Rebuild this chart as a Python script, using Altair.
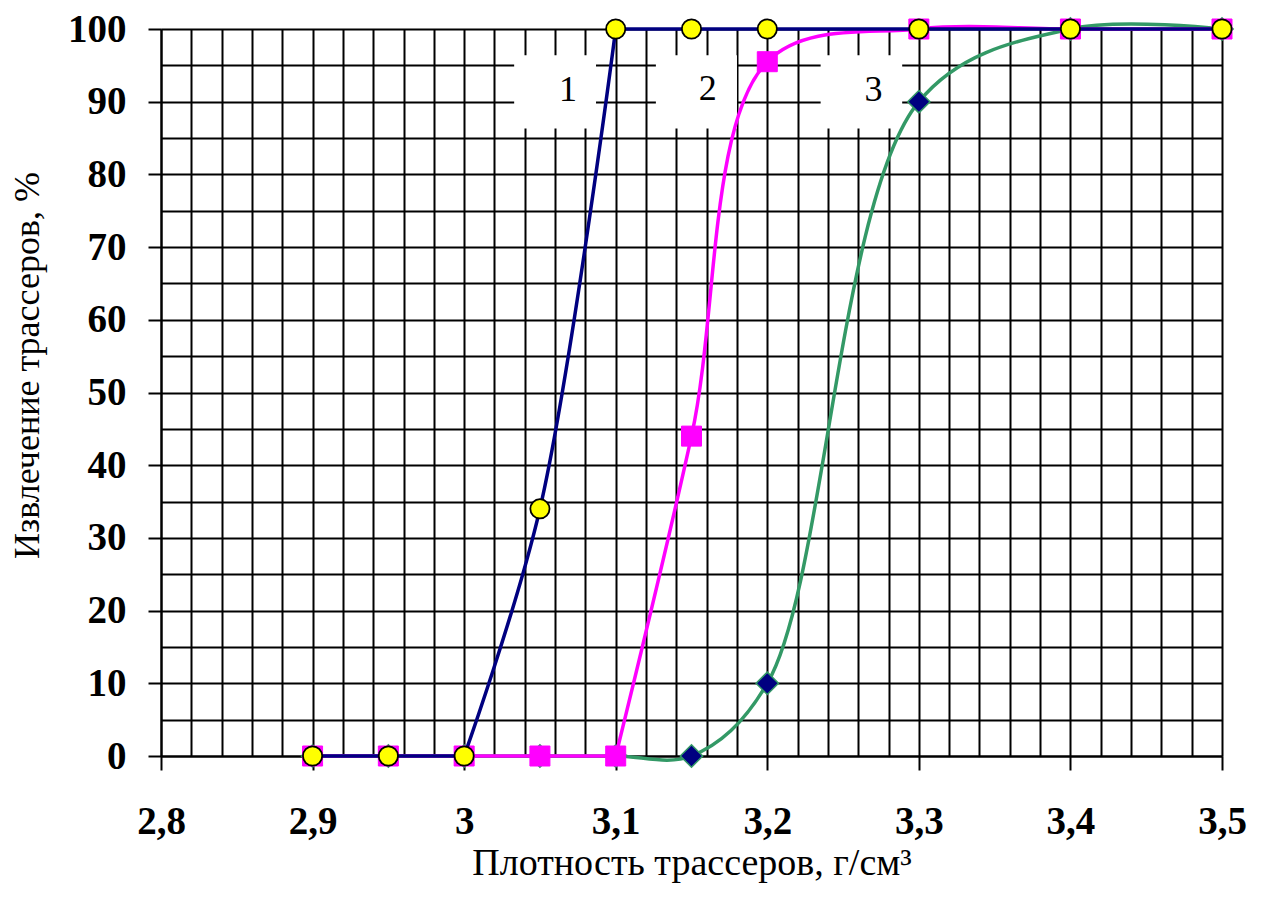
import altair as alt
import pandas as pd

# ---- data ----
density = [2.9, 2.95, 3.0, 3.05, 3.1, 3.15, 3.2, 3.3, 3.4, 3.5]
rec1 = [0, 0, 0, 34, 100, 100, 100, 100, 100, 100]
rec2 = [0, 0, 0, 0, 0, 44, 95.5, 100, 100, 100]
rec3 = [0, 0, 0, 0, 0, 0, 10, 90, 100, 100]
series_names = ["1", "2", "3"]

# index runs of each curve drawn smoothed / straight
curve_runs = {"1": [(2, 4)], "2": [(4, 9)], "3": [(0, 9)]}
flat_runs = {"1": [(0, 2), (4, 9)], "2": [(0, 4)], "3": []}

# curve number labels (text boxes)
label_text = ["1", "2", "3"]
label_x = [3.0686, 3.1608, 3.270]
label_y = [91.6, 91.8, 91.6]
box_x0 = [3.033, 3.1265, 3.2352]
box_x1 = [3.087, 3.180, 3.289]
box_y0 = [86.3, 86.3, 86.3]
box_y1 = [96.4, 96.4, 96.4]

x_grid = [round(2.8 + 0.02 * i, 2) for i in range(36)]
y_grid = [5 * i for i in range(21)]

FONT = "Liberation Serif"
XTITLE = "Плотность трассеров, г/см³"
YTITLE = "Извлечение трассеров, %"

values = {"1": rec1, "2": rec2, "3": rec3}
rows = []
for s in series_names:
    for kind, runs in (("curve", curve_runs[s]), ("flat", flat_runs[s])):
        for k, (a, b) in enumerate(runs):
            for i in range(a, b + 1):
                rows.append({"x": density[i], "y": values[s][i], "series": s,
                             "kind": kind, "run": f"{s}-{kind}-{k}"})
lines_df = pd.DataFrame(rows)
pts_df = pd.DataFrame([{"x": density[i], "y": values[s][i], "series": s}
                       for s in series_names for i in range(len(density))])
box_df = pd.DataFrame({"x": box_x0, "x2": box_x1, "y": box_y0, "y2": box_y1})
lab_df = pd.DataFrame({"x": label_x, "y": label_y, "t": label_text})

is_x_major = "abs(datum.value*10 - round(datum.value*10)) < 0.001"
is_y_major = "datum.value % 10 === 0"

x_axis = alt.Axis(
    values=x_grid, grid=True, gridColor="black", gridWidth=2, gridOpacity=1,
    domainColor="black", domainWidth=2,
    tickColor="black", tickWidth=2, tickSize=14,
    tickOpacity={"condition": {"test": is_x_major, "value": 1}, "value": 0},
    labelExpr=f"{is_x_major} ? replace(format(datum.value, '.1~f'), '.', ',') : ''",
    labelFont=FONT, labelFontSize=39, labelFontWeight="bold", labelColor="black",
    labelPadding=32, labelOverlap=False, labelFlush=False,
    title=XTITLE, titleFont=FONT, titleFontSize=38, titleFontWeight="normal",
    titleColor="black", titlePadding=3,
)
y_axis = alt.Axis(
    values=y_grid, grid=True, gridColor="black", gridWidth=2, gridOpacity=1,
    domainColor="black", domainWidth=2,
    tickColor="black", tickWidth=2, tickSize=13,
    tickOpacity={"condition": {"test": is_y_major, "value": 1}, "value": 0},
    labelExpr=f"{is_y_major} ? datum.label : ''",
    labelFont=FONT, labelFontSize=39, labelFontWeight="bold", labelColor="black",
    labelPadding=22, labelOverlap=False, labelFlush=False,
    title=YTITLE, titleFont=FONT, titleFontSize=36, titleFontWeight="normal",
    titleColor="black", titleX=-134, titleY=336, titleAlign="center",
    titleBaseline="middle", titleAngle=270,
)

X = alt.X("x:Q", scale=alt.Scale(domain=[2.8, 3.5], nice=False, zero=False),
          axis=x_axis, title=XTITLE)
Y = alt.Y("y:Q", scale=alt.Scale(domain=[0, 100], nice=False, zero=False),
          axis=y_axis, title=YTITLE)

boxes = alt.Chart(box_df).mark_rect(color="white").encode(
    x=X, x2="x2:Q", y=Y, y2="y2:Q")
labels = alt.Chart(lab_df).mark_text(
    font=FONT, fontSize=36, color="black", align="center", baseline="middle"
).encode(x=X, y=Y, text="t:N")


def line_layer(s, kind, color):
    return alt.Chart(lines_df).transform_filter(
        f"datum.series == '{s}' && datum.kind == '{kind}'"
    ).mark_line(
        interpolate="catmull-rom" if kind == "curve" else "linear",
        color=color, strokeWidth=3.5, clip=False
    ).encode(x=X, y=Y, detail="run:N", order="x:Q")


def pts_layer(s, **mk):
    return alt.Chart(pts_df).transform_filter(
        f"datum.series == '{s}'"
    ).mark_point(filled=True, opacity=1, **mk).encode(x=X, y=Y)


NAVY = "#000080"
PINK = "#FF00FF"
GREEN = "#339966"

chart = alt.layer(
    boxes,
    labels,
    line_layer("3", "curve", GREEN),
    pts_layer("3", shape="diamond", size=500, fill=NAVY, stroke=GREEN, strokeWidth=1.5),
    line_layer("2", "flat", PINK),
    line_layer("2", "curve", PINK),
    pts_layer("2", shape="square", size=400, fill=PINK, stroke=PINK, strokeWidth=1),
    line_layer("1", "flat", NAVY),
    line_layer("1", "curve", NAVY),
    pts_layer("1", shape="circle", size=370, fill="#FFFF00", stroke="black", strokeWidth=1.8),
).properties(
    width=1061, height=727,
    padding={"left": 1, "top": 2, "right": 5, "bottom": 5},
).configure_view(stroke=None).configure(background="white")

chart.save("out.html", embed_options={"renderer": "svg", "actions": False})
